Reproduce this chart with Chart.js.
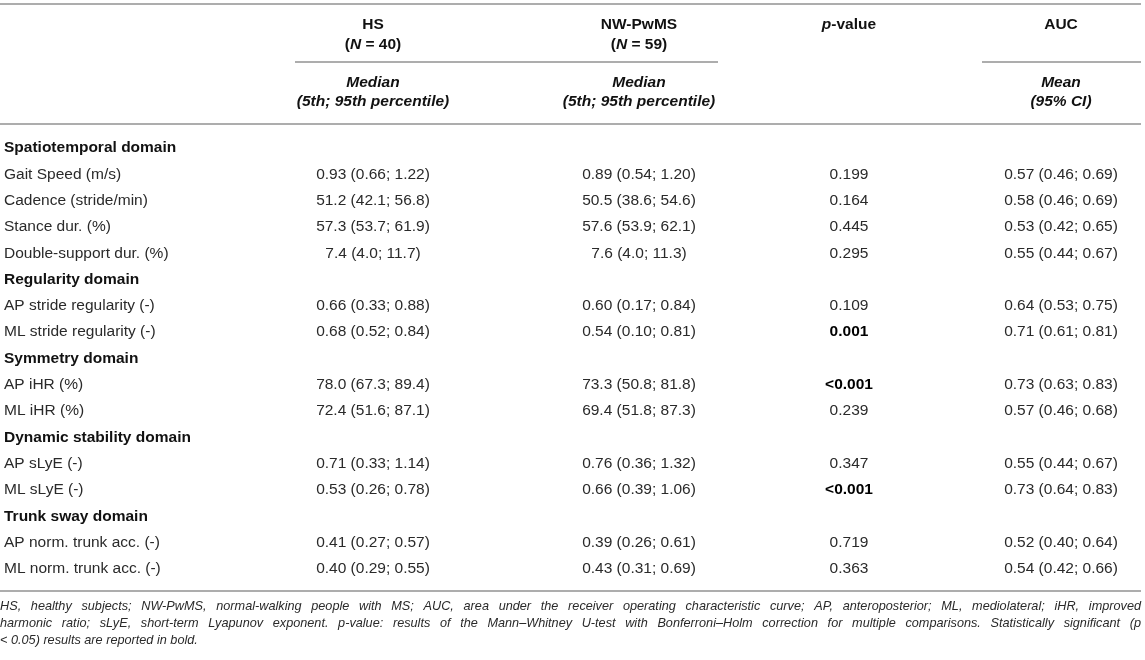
<!DOCTYPE html>
<html>
<head>
<meta charset="utf-8">
<script src="https://cdn.jsdelivr.net/npm/chart.js@4"></script>
<style>
  html, body { margin: 0; padding: 0; background: #ffffff; }
  #wrap { width: 1145px; height: 660px; position: relative; }
</style>
</head>
<body>
<div id="wrap"><canvas id="gaitTable"></canvas></div>
<script>
const domains = ['Spatiotemporal domain', 'Regularity domain', 'Symmetry domain', 'Dynamic stability domain', 'Trunk sway domain'];
const variables = ['Gait Speed (m/s)', 'Cadence (stride/min)', 'Stance dur. (%)', 'Double-support dur. (%)',
  'AP stride regularity (-)', 'ML stride regularity (-)', 'AP iHR (%)', 'ML iHR (%)',
  'AP sLyE (-)', 'ML sLyE (-)', 'AP norm. trunk acc. (-)', 'ML norm. trunk acc. (-)'];
const variableDomain = [0, 0, 0, 0, 1, 1, 2, 2, 3, 3, 4, 4];
const decimals = [2, 1, 1, 1, 2, 2, 1, 1, 2, 2, 2, 2];

const groupN = [40, 59];
const hsMedian = [0.93, 51.2, 57.3, 7.4, 0.66, 0.68, 78.0, 72.4, 0.71, 0.53, 0.41, 0.40];
const hsP5 = [0.66, 42.1, 53.7, 4.0, 0.33, 0.52, 67.3, 51.6, 0.33, 0.26, 0.27, 0.29];
const hsP95 = [1.22, 56.8, 61.9, 11.7, 0.88, 0.84, 89.4, 87.1, 1.14, 0.78, 0.57, 0.55];
const nwMedian = [0.89, 50.5, 57.6, 7.6, 0.60, 0.54, 73.3, 69.4, 0.76, 0.66, 0.39, 0.43];
const nwP5 = [0.54, 38.6, 53.9, 4.0, 0.17, 0.10, 50.8, 51.8, 0.36, 0.39, 0.26, 0.31];
const nwP95 = [1.20, 54.6, 62.1, 11.3, 0.84, 0.81, 81.8, 87.3, 1.32, 1.06, 0.61, 0.69];
const pValues = ['0.199', '0.164', '0.445', '0.295', '0.109', '0.001', '<0.001', '0.239', '0.347', '<0.001', '0.719', '0.363'];
const pSignificant = [false, false, false, false, false, true, true, false, false, true, false, false];
const aucMean = [0.57, 0.58, 0.53, 0.55, 0.64, 0.71, 0.73, 0.57, 0.55, 0.73, 0.52, 0.54];
const aucLow = [0.46, 0.46, 0.42, 0.44, 0.53, 0.61, 0.63, 0.46, 0.44, 0.64, 0.40, 0.42];
const aucHigh = [0.69, 0.69, 0.65, 0.67, 0.75, 0.81, 0.83, 0.68, 0.67, 0.83, 0.64, 0.66];

const footnote = [
  'HS, healthy subjects; NW-PwMS, normal-walking people with MS; AUC, area under the receiver operating characteristic curve; AP, anteroposterior; ML, mediolateral; iHR, improved',
  'harmonic ratio; sLyE, short-term Lyapunov exponent. p-value: results of the Mann\u2013Whitney U-test with Bonferroni\u2013Holm correction for multiple comparisons. Statistically significant (p',
  '< 0.05) results are reported in bold.'
];

// ---- layout (x in table units, same as pixels) ----
const colCenter = [373, 639, 849, 1061];
const labelLeft = 4;
const tableRight = 1141;
const FAM = '"Liberation Sans", Arial, Helvetica, sans-serif';
const F_BODY = '15.5px ' + FAM;
const F_BOLD = 'bold 15.5px ' + FAM;
const F_BI = 'italic bold 15.5px ' + FAM;
const F_NOTE = 'italic 13.5px ' + FAM;
const NOTE_SQUEEZE = 0.94;   // the footnote face is a little condensed
const TEXT = '#2a2a2a';
const RULE = '#adadad';

// rows: domain heading followed by its variables
const rowLabels = [];
const rowIsDomain = [];
domains.forEach(function(d, di) {
  rowLabels.push(d); rowIsDomain.push(true);
  variables.forEach(function(v, vi) {
    if (variableDomain[vi] === di) { rowLabels.push(v); rowIsDomain.push(false); }
  });
});

function fmt(v, d) { return v.toFixed(d); }
function cellsFor(col) {
  return variables.map(function(v, i) {
    const d = decimals[i];
    if (col === 0) return fmt(hsMedian[i], d) + ' (' + fmt(hsP5[i], d) + '; ' + fmt(hsP95[i], d) + ')';
    if (col === 1) return fmt(nwMedian[i], d) + ' (' + fmt(nwP5[i], d) + '; ' + fmt(nwP95[i], d) + ')';
    if (col === 2) return pValues[i];
    return fmt(aucMean[i], 2) + ' (' + fmt(aucLow[i], 2) + '; ' + fmt(aucHigh[i], 2) + ')';
  });
}

// one invisible point per cell, placed by the scales (y = the row's label)
const datasets = colCenter.map(function(cx, c) {
  return {
    label: ['HS', 'NW-PwMS', 'p-value', 'AUC'][c],
    data: variables.map(function(v) { return { x: cx, y: v }; }),
    cellText: cellsFor(c),
    cellBold: variables.map(function(v, i) { return c === 2 && pSignificant[i]; }),
    pointRadius: 0,
    pointHoverRadius: 0,
    showLine: false
  };
});

function drawRuns(ctx, runs, cx, y) {
  let total = 0;
  runs.forEach(function(r) { ctx.font = r.f; total += ctx.measureText(r.t).width; });
  let x = cx - total / 2;
  ctx.textAlign = 'left';
  runs.forEach(function(r) { ctx.font = r.f; ctx.fillText(r.t, x, y); x += ctx.measureText(r.t).width; });
}

function hline(ctx, xs, x0, x1, y) {
  ctx.beginPath();
  ctx.moveTo(xs.getPixelForValue(x0), y);
  ctx.lineTo(xs.getPixelForValue(x1), y);
  ctx.stroke();
}

const tablePlugin = {
  id: 'tablePlugin',
  afterDatasetsDraw(chart) {
    const ctx = chart.ctx;
    const xs = chart.scales.x, ys = chart.scales.y;
    const top = chart.chartArea.top, bottom = chart.chartArea.bottom;
    ctx.save();
    ctx.fillStyle = TEXT;
    ctx.textBaseline = 'middle';

    // row labels
    rowLabels.forEach(function(lab, i) {
      ctx.font = rowIsDomain[i] ? F_BOLD : F_BODY;
      ctx.fillStyle = rowIsDomain[i] ? '#111111' : TEXT;
      ctx.textAlign = 'left';
      ctx.fillText(lab, xs.getPixelForValue(labelLeft), ys.getPixelForValue(i));
    });

    // cells
    chart.data.datasets.forEach(function(ds, di) {
      const meta = chart.getDatasetMeta(di);
      meta.data.forEach(function(pt, i) {
        ctx.font = ds.cellBold[i] ? F_BOLD : F_BODY;
        ctx.fillStyle = ds.cellBold[i] ? '#000000' : TEXT;
        ctx.textAlign = 'center';
        ctx.fillText(ds.cellText[i], pt.x, pt.y);
      });
    });

    // header
    ctx.fillStyle = '#111111';
    const y1 = top - 110, y2 = top - 90, y3 = top - 52, y4 = top - 33;
    const px = colCenter.map(function(c) { return xs.getPixelForValue(c); });
    drawRuns(ctx, [{ t: 'HS', f: F_BOLD }], px[0], y1);
    drawRuns(ctx, [{ t: '(', f: F_BOLD }, { t: 'N', f: F_BI }, { t: ' = ' + groupN[0] + ')', f: F_BOLD }], px[0], y2);
    drawRuns(ctx, [{ t: 'NW-PwMS', f: F_BOLD }], px[1], y1);
    drawRuns(ctx, [{ t: '(', f: F_BOLD }, { t: 'N', f: F_BI }, { t: ' = ' + groupN[1] + ')', f: F_BOLD }], px[1], y2);
    drawRuns(ctx, [{ t: 'p', f: F_BI }, { t: '-value', f: F_BOLD }], px[2], y1);
    drawRuns(ctx, [{ t: 'AUC', f: F_BOLD }], px[3], y1);
    [0, 1].forEach(function(c) {
      drawRuns(ctx, [{ t: 'Median', f: F_BI }], px[c], y3);
      drawRuns(ctx, [{ t: '(5th; 95th percentile)', f: F_BI }], px[c], y4);
    });
    drawRuns(ctx, [{ t: 'Mean', f: F_BI }], px[3], y3);
    drawRuns(ctx, [{ t: '(95% CI)', f: F_BI }], px[3], y4);

    // rules
    ctx.strokeStyle = RULE;
    ctx.lineWidth = 2;
    hline(ctx, xs, 0, tableRight, top - 131);
    hline(ctx, xs, 295, 718, top - 73);
    hline(ctx, xs, 982, tableRight, top - 73);
    hline(ctx, xs, 0, tableRight, top - 11);
    hline(ctx, xs, 0, tableRight, bottom + 9);

    // footnote, justified except the last line (drawn in a slightly squeezed space)
    ctx.font = F_NOTE;
    ctx.fillStyle = TEXT;
    ctx.textAlign = 'left';
    const left = xs.getPixelForValue(0);
    const width = (xs.getPixelForValue(tableRight) - left) / NOTE_SQUEEZE;
    footnote.forEach(function(line, li) {
      const y = bottom + 24 + li * 17;
      ctx.save();
      ctx.translate(left, y);
      ctx.scale(NOTE_SQUEEZE, 1);
      if (li === footnote.length - 1) {
        ctx.fillText(line, 0, 0);
      } else {
        const words = line.split(' ');
        const wordsW = words.reduce(function(s, w) { return s + ctx.measureText(w).width; }, 0);
        const gap = (width - wordsW) / (words.length - 1);
        let x = 0;
        words.forEach(function(w) { ctx.fillText(w, x, 0); x += ctx.measureText(w).width + gap; });
      }
      ctx.restore();
    });
    ctx.restore();
  }
};

new Chart(document.getElementById('gaitTable').getContext('2d'), {
  type: 'scatter',
  data: { datasets: datasets },
  options: {
    responsive: true,
    maintainAspectRatio: false,
    animation: false,
    events: [],
    layout: { padding: { top: 135, bottom: 78, left: 0, right: 0 } },
    scales: {
      x: { type: 'linear', min: 0, max: 1145, display: false },
      y: { type: 'category', labels: rowLabels, offset: true, display: false }
    },
    plugins: {
      legend: { display: false },
      tooltip: { enabled: false }
    }
  },
  plugins: [tablePlugin]
});
</script>
</body>
</html>
